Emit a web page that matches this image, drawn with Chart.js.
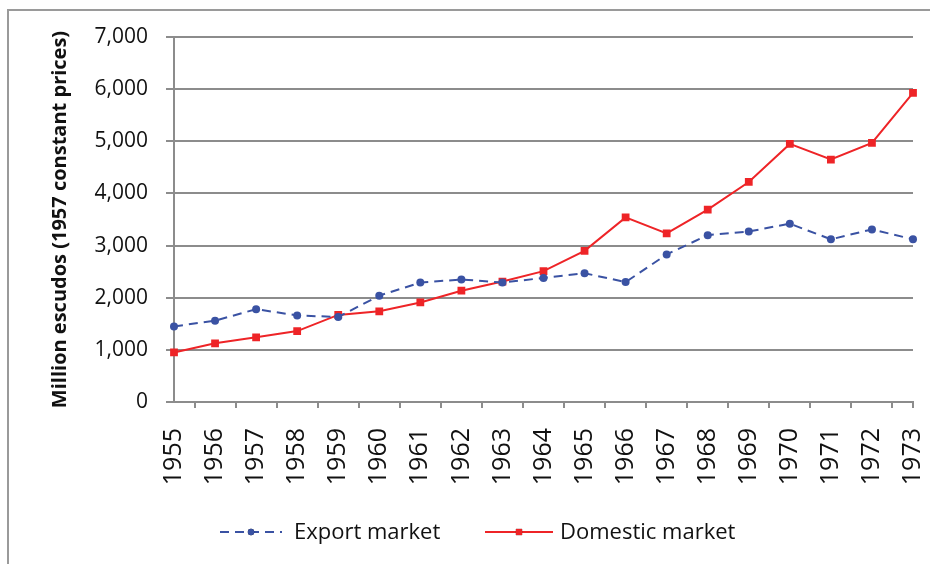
<!DOCTYPE html>
<html>
<head>
<meta charset="utf-8">
<script src="https://cdn.jsdelivr.net/npm/chart.js@4.4.1/dist/chart.umd.min.js"></script>
<style>
  html, body { margin: 0; padding: 0; background: #ffffff; }
  #wrap { width: 930px; height: 564px; }
</style>
</head>
<body>
<div id="wrap"><canvas id="lineChart" width="930" height="564"></canvas></div>
<script>
// Data
const years = ["1955", "1956", "1957", "1958", "1959", "1960", "1961", "1962", "1963", "1964",
  "1965", "1966", "1967", "1968", "1969", "1970", "1971", "1972", "1973"];
const exportMarket = [1450, 1560, 1780, 1660, 1630, 2040, 2290, 2350, 2290, 2380,
  2470, 2300, 2830, 3200, 3270, 3420, 3120, 3310, 3120];
const domesticMarket = [950, 1125, 1240, 1360, 1670, 1740, 1910, 2135, 2310, 2510,
  2900, 3540, 3235, 3690, 4220, 4950, 4650, 4970, 5930];
const yTicks = [0, 1000, 2000, 3000, 4000, 5000, 6000, 7000];

const gridGrey = "#8c8c8c";
const fontName = "'Open Sans', 'Noto Sans', sans-serif";

// Border round the whole chart, as in the original
const frame = {
  id: "frame",
  beforeDraw(chart) {
    const { ctx } = chart;
    ctx.save();
    ctx.strokeStyle = "#9a9a9a";
    ctx.lineWidth = 2;
    ctx.strokeRect(8, 10, 1000, 700);
    ctx.restore();
  },
};

// Legend with line + marker sample, drawn below the axis
const lineLegend = {
  id: "lineLegend",
  afterDraw(chart) {
    const { ctx } = chart;
    const items = [
      { ds: 0, x1: 220, x2: 282, tx: 294 },
      { ds: 1, x1: 485, x2: 553, tx: 560 },
    ];
    const y = 532;
    ctx.save();
    items.forEach((it) => {
      const ds = chart.data.datasets[it.ds];
      ctx.strokeStyle = ds.borderColor;
      ctx.lineWidth = ds.borderWidth;
      ctx.setLineDash(ds.borderDash || []);
      ctx.beginPath();
      ctx.moveTo(it.x1, y);
      ctx.lineTo(it.x2, y);
      ctx.stroke();
      ctx.setLineDash([]);
      Chart.helpers.drawPoint(ctx, {
        pointStyle: ds.pointStyle,
        radius: ds.pointRadius * 0.8,
        borderWidth: 0,
      }, (it.x1 + it.x2) / 2, y);
      ctx.fillStyle = ds.pointBackgroundColor;
      ctx.fill();
      ctx.fillStyle = "#111111";
      ctx.font = "22px " + fontName;
      ctx.textBaseline = "middle";
      ctx.fillText(ds.label, it.tx, y + 1);
    });
    ctx.restore();
  },
};

// Small tick closing the x axis at its right end
const endTick = {
  id: "endTick",
  afterDraw(chart) {
    const { ctx, chartArea } = chart;
    ctx.save();
    ctx.strokeStyle = gridGrey;
    ctx.lineWidth = 2;
    ctx.beginPath();
    ctx.moveTo(chartArea.right, chartArea.bottom);
    ctx.lineTo(chartArea.right, chartArea.bottom + 6);
    ctx.stroke();
    ctx.restore();
  },
};

const chart = new Chart(document.getElementById("lineChart"), {
  type: "line",
  data: {
    labels: years,
    datasets: [
      {
        label: "Export market",
        data: exportMarket,
        borderColor: "#3a52a3",
        backgroundColor: "#3a52a3",
        pointBackgroundColor: "#3a52a3",
        pointBorderWidth: 0,
        borderWidth: 2,
        borderDash: [9, 6],
        pointStyle: "circle",
        pointRadius: 4,
        tension: 0,
      },
      {
        label: "Domestic market",
        data: domesticMarket,
        borderColor: "#ee2427",
        backgroundColor: "#ee2427",
        pointBackgroundColor: "#ee2427",
        pointBorderWidth: 0,
        borderWidth: 2,
        pointStyle: "rect",
        pointRadius: 5.5,
        tension: 0,
      },
    ],
  },
  options: {
    responsive: false,
    animation: false,
    layout: { padding: { top: 37, right: 17, left: 0, bottom: 0 } },
    plugins: {
      legend: { display: false },
      tooltip: { enabled: false },
    },
    scales: {
      x: {
        offset: false,
        grid: {
          offset: true,
          drawOnChartArea: false,
          color: gridGrey,
          lineWidth: 2,
          tickLength: 6,
        },
        border: { color: gridGrey, width: 2 },
        ticks: {
          minRotation: 90,
          maxRotation: 90,
          autoSkip: false,
          padding: 20,
          color: "#111111",
          font: { family: fontName, size: 25 },
        },
        afterFit(scale) {
          scale.height = 162;
          scale.paddingLeft = 0;
          scale.paddingRight = 0;
        },
      },
      y: {
        min: 0,
        max: 7000,
        afterBuildTicks(scale) {
          scale.ticks = yTicks.map((v) => ({ value: v }));
        },
        grid: {
          color: gridGrey,
          lineWidth: 2,
          tickLength: 8,
        },
        border: { color: gridGrey, width: 2 },
        ticks: {
          padding: 18,
          color: "#111111",
          font: { family: fontName, size: 21 },
          callback: (v) => v.toLocaleString("en-US"),
        },
        title: {
          display: true,
          text: "Million escudos (1957 constant prices)",
          color: "#111111",
          font: { family: fontName, size: 20, weight: "bold" },
          padding: { top: 48, bottom: 0 },
        },
        afterFit(scale) {
          scale.width = 174;
          scale.paddingTop = 0;
          scale.paddingBottom = 0;
        },
      },
    },
  },
  plugins: [frame, lineLegend, endTick],
});
</script>
</body>
</html>
